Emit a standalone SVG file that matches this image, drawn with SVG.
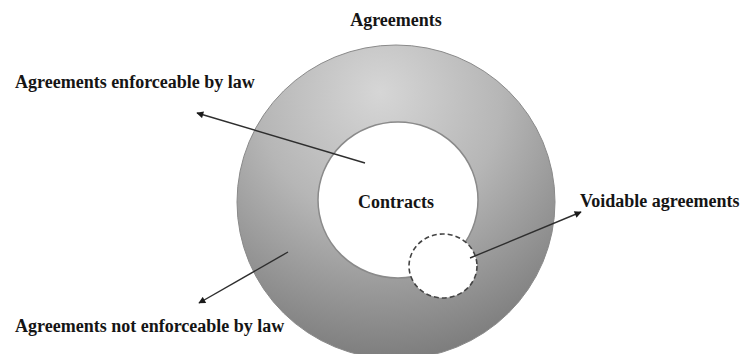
<svg xmlns="http://www.w3.org/2000/svg" width="740" height="354" viewBox="0 0 740 354">
<style>
.lbl{font-family:"Liberation Serif","Times New Roman",serif;font-weight:bold;font-size:18px;fill:#151515}
.conn{stroke:#2e2e2e;stroke-width:1.4;fill:none;marker-end:url(#ah)}
</style>
<defs>
<radialGradient id="ring" cx="0.45" cy="0.2" r="0.85" fx="0.45" fy="0.15">
<stop offset="0" stop-color="#d6d6d6"/>
<stop offset="0.45" stop-color="#b6b6b6"/>
<stop offset="1" stop-color="#777777"/>
</radialGradient>
<marker id="ah" viewBox="0 0 10 10" refX="9" refY="5" markerWidth="8" markerHeight="7" markerUnits="userSpaceOnUse" orient="auto">
<path d="M0,0 L10,5 L0,10 z" fill="#1a1a1a"/>
</marker>
</defs>
<rect width="740" height="354" fill="#ffffff"/>
<g id="agreements">
<ellipse cx="396" cy="202" rx="159" ry="157" fill="url(#ring)" stroke="#8a8a8a" stroke-width="1"/>
<text class="lbl" x="396" y="26" text-anchor="middle">Agreements</text>
</g>
<g id="contracts">
<ellipse cx="398" cy="200" rx="80" ry="78" fill="#ffffff" stroke="#8a8a8a" stroke-width="1.5"/>
<text class="lbl" x="396" y="208" text-anchor="middle">Contracts</text>
</g>
<g id="voidable">
<ellipse cx="443" cy="266" rx="34" ry="32" fill="#ffffff" stroke="#444444" stroke-width="1.6" stroke-dasharray="5,3"/>
<text class="lbl" x="580" y="207">Voidable agreements</text>
</g>
<g id="enforceable">
<text class="lbl" x="15" y="88">Agreements enforceable by law</text>
</g>
<g id="not-enforceable">
<text class="lbl" x="15" y="332">Agreements not enforceable by law</text>
</g>
<g id="connectors">
<line class="conn" x1="365" y1="163" x2="197" y2="113"/>
<line class="conn" x1="288" y1="252" x2="199" y2="303"/>
<line class="conn" x1="470" y1="258" x2="581" y2="212"/>
</g>
</svg>
